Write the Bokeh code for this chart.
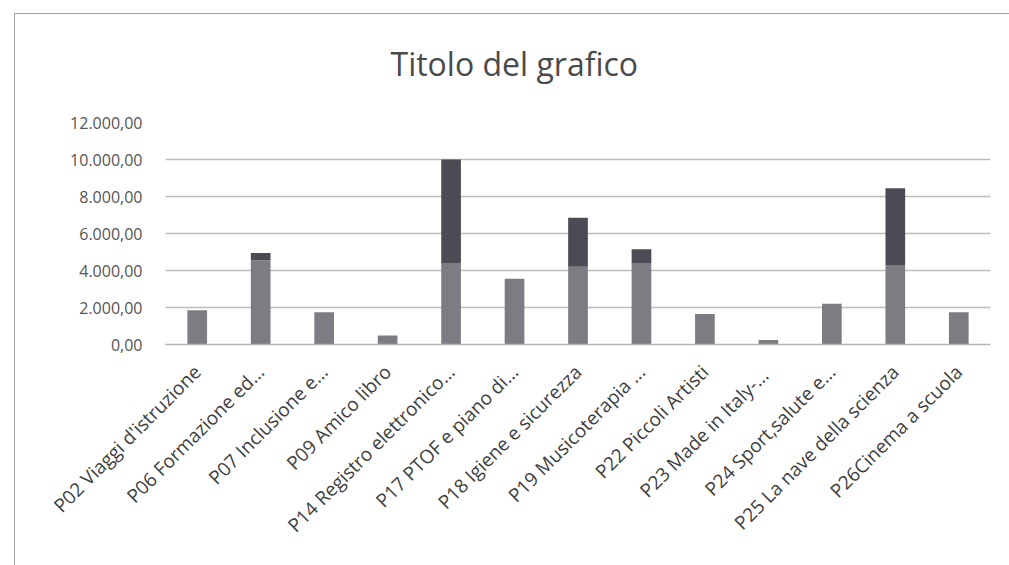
from math import pi
from bokeh.plotting import figure
from bokeh.models import ColumnDataSource, CustomJSTickFormatter, Range1d, FactorRange, InlineStyleSheet
from bokeh.embed import file_html
from bokeh.resources import INLINE

categories = ["P02 Viaggi d'istruzione", "P06 Formazione ed...", "P07 Inclusione e...",
              "P09 Amico libro", "P14 Registro elettronico...", "P17 PTOF e piano di...",
              "P18 Igiene e sicurezza", "P19 Musicoterapia ...", "P22 Piccoli Artisti",
              "P23  Made in Italy-...", "P24 Sport,salute e...", "P25 La nave della scienza",
              "P26Cinema a scuola"]
serie1 = [1850, 4550, 1750, 480, 4400, 3550, 4200, 4400, 1650, 250, 2200, 4300, 1750]
serie2 = [0, 400, 0, 0, 5600, 0, 2650, 750, 0, 0, 0, 4150, 0]
y_ticks = [0, 2000, 4000, 6000, 8000, 10000, 12000]
title_text = "Titolo del grafico"

src = ColumnDataSource(dict(cat=categories, s1=serie1, s2=serie2))

p = figure(x_range=FactorRange(*categories), y_range=Range1d(0, 12000),
           width=993, height=549, output_backend="svg", toolbar_location=None,
           min_border_left=165, min_border_right=3, min_border_top=122,
           min_border_bottom=204)

p.vbar_stack(["s1", "s2"], x="cat", width=0.31, source=src,
             color=["#7c7c82", "#4b4b53"], line_color=None)

p.title.text = title_text
p.title.text_font = "Open Sans"
p.title.text_font_size = "32px"
p.title.text_font_style = "normal"
p.title.text_color = "#4a4a4a"
p.title.align = "left"
p.title.offset = 225
p.title.standoff = 75

p.outline_line_color = None
p.background_fill_color = "white"
p.border_fill_color = "white"

p.xgrid.grid_line_color = None
p.ygrid.grid_line_color = "#bcbcbc"
p.ygrid.grid_line_width = 1.5

p.yaxis.formatter = CustomJSTickFormatter(code="""
    const s = tick.toFixed(2).split('.');
    const ip = s[0].replace(/\\B(?=(\\d{3})+(?!\\d))/g, '.');
    return ip + ',' + s[1];
""")
p.yaxis.ticker = y_ticks
p.yaxis.axis_line_color = None
p.yaxis.major_tick_line_color = None
p.yaxis.minor_tick_line_color = None
p.yaxis.major_label_text_font = "Open Sans"
p.yaxis.major_label_text_font_size = "16px"
p.yaxis.major_label_text_color = "#555555"
p.yaxis.major_label_standoff = 17

p.xaxis.axis_line_color = "#b5b5b5"
p.xaxis.axis_line_width = 1.5
p.xaxis.major_tick_line_color = None
p.xaxis.minor_tick_line_color = None
p.xaxis.major_label_orientation = pi / 4
p.xaxis.major_label_text_font = "Open Sans"
p.xaxis.major_label_text_font_size = "19px"
p.xaxis.major_label_text_color = "#404040"
p.xaxis.major_label_standoff = 18

p.x_range.range_padding = 0.0
p.x_range.group_padding = 0.0

p.stylesheets = [InlineStyleSheet(css="""
:host { position: relative; }
:host::after { content: ''; position: absolute; left: 14px; top: 13px;
  width: 2000px; height: 2000px; border-left: 1.5px solid #a0a0a0;
  border-top: 1.5px solid #a0a0a0; pointer-events: none; }
""")]

open("out.html", "w").write(file_html(p, INLINE))
